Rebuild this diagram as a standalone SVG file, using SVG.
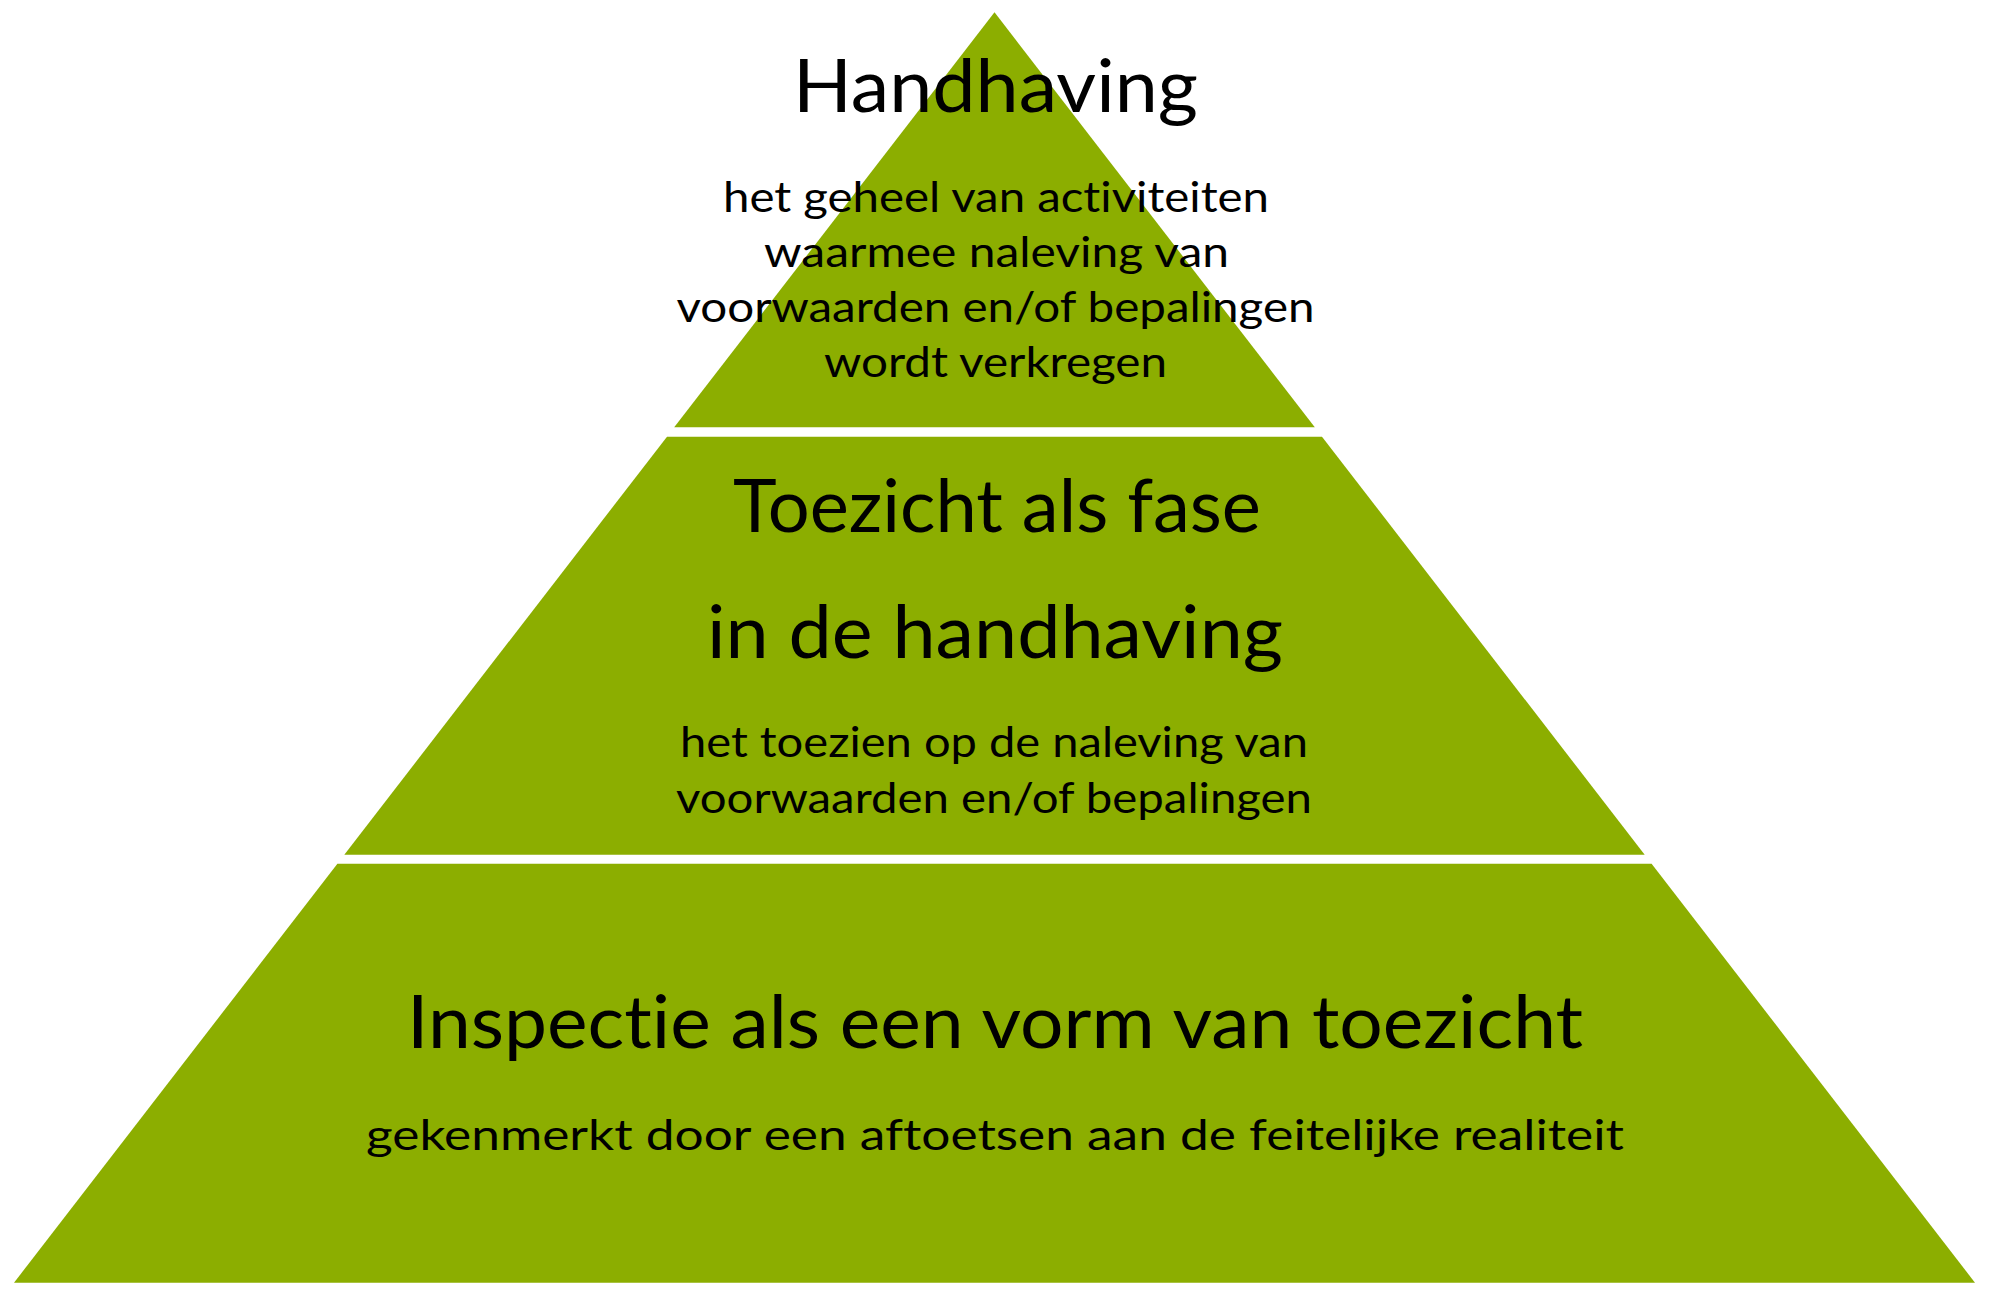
<svg xmlns="http://www.w3.org/2000/svg" width="1989" height="1292" viewBox="0 0 1989 1292">
  <style>
    .seg { fill: #8CAE00; stroke: none; }
    .t { font-family: Lato, "Liberation Sans", sans-serif; fill: #000000; text-anchor: middle; font-variant-ligatures: none; font-feature-settings: "liga" 0, "clig" 0; }
    .big { font-size: 74px; }
    .small { font-size: 42px; }
  </style>
  <rect x="0" y="0" width="1989" height="1292" fill="#FFFFFF"/>
  <g id="level-top">
    <polygon class="seg" points="994.5,12.3 1314.8,427.3 674.2,427.3"/>
    <text class="t big" x="995.5" y="112" textLength="405" lengthAdjust="spacingAndGlyphs">Handhaving</text>
    <text class="t small" x="996" y="212" textLength="546" lengthAdjust="spacingAndGlyphs">het geheel van activiteiten</text>
    <text class="t small" x="996.5" y="267" textLength="465" lengthAdjust="spacingAndGlyphs">waarmee naleving van</text>
    <text class="t small" x="995.5" y="322" textLength="638" lengthAdjust="spacingAndGlyphs">voorwaarden en/of bepalingen</text>
    <text class="t small" x="995.5" y="377" textLength="343" lengthAdjust="spacingAndGlyphs">wordt verkregen</text>
  </g>
  <g id="level-middle">
    <polygon class="seg" points="667,436.7 1322,436.7 1644.7,854.7 344.3,854.7"/>
    <text class="t big" x="997" y="532" textLength="528" lengthAdjust="spacingAndGlyphs">Toezicht als fase</text>
    <text class="t big" x="995" y="658" textLength="576" lengthAdjust="spacingAndGlyphs">in de handhaving</text>
    <text class="t small" x="994" y="757" textLength="628" lengthAdjust="spacingAndGlyphs">het toezien op de naleving van</text>
    <text class="t small" x="994" y="813" textLength="636" lengthAdjust="spacingAndGlyphs">voorwaarden en/of bepalingen</text>
  </g>
  <g id="level-bottom">
    <polygon class="seg" points="337.4,863.7 1651.6,863.7 1975,1282.7 14,1282.7"/>
    <text class="t big" x="995" y="1048" textLength="1176" lengthAdjust="spacingAndGlyphs">Inspectie als een vorm van toezicht</text>
    <text class="t small" x="995" y="1150" textLength="1258" lengthAdjust="spacingAndGlyphs">gekenmerkt door een aftoetsen aan de feitelijke realiteit</text>
  </g>
</svg>
